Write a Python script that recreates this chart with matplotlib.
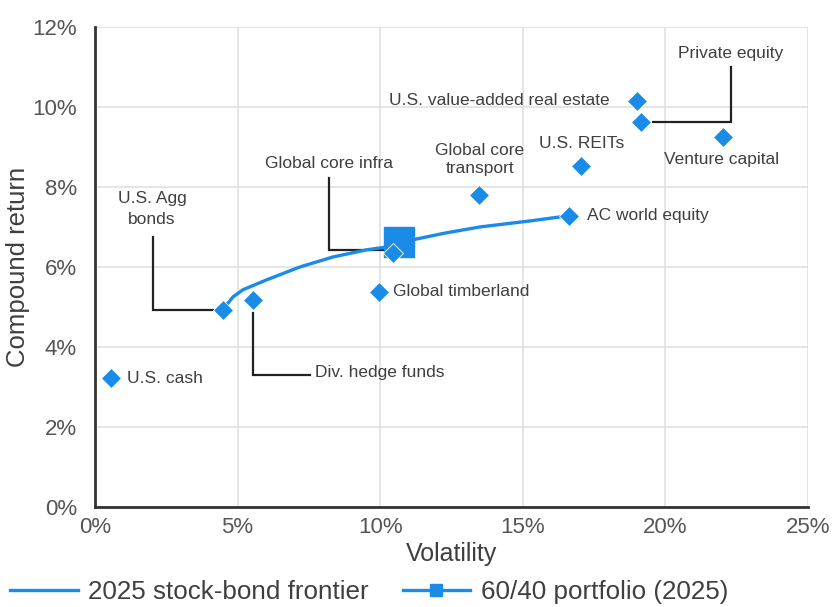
import matplotlib
matplotlib.use("Agg")
import matplotlib.pyplot as plt
from matplotlib.ticker import FuncFormatter
from matplotlib.lines import Line2D

plt.rcParams['font.family'] = ['Liberation Sans', 'DejaVu Sans']

# Asset classes: volatility (%) and compound return (%)
assets = ["U.S. cash", "U.S. Agg bonds", "Div. hedge funds", "Global timberland",
          "Global core infra", "Global core transport", "AC world equity", "U.S. REITs",
          "U.S. value-added real estate", "Private equity", "Venture capital"]
volatility = [0.55, 4.49, 5.54, 9.96, 10.45, 13.48, 16.62, 17.04, 19.0, 19.14, 22.02]
returns = [3.22, 4.93, 5.18, 5.38, 6.35, 7.8, 7.28, 8.53, 10.15, 9.63, 9.25]

# 2025 stock-bond frontier
frontier_vol = [4.5, 4.84, 5.19, 6.03, 7.19, 8.35, 9.54, 10.24, 11.15, 12.3, 13.5, 15.25, 16.62]
frontier_ret = [4.95, 5.25, 5.43, 5.68, 6.0, 6.25, 6.43, 6.5, 6.68, 6.85, 7.0, 7.15, 7.28]

# 60/40 portfolio
portfolio_vol = [10.65]
portfolio_ret = [6.63]

x_ticks = [0, 5, 10, 15, 20, 25]
y_ticks = [0, 2, 4, 6, 8, 10, 12]

BLUE = "#1a8be6"
TEXT = "#3f3f3f"
LEAD = "#222222"

fig = plt.figure(figsize=(8.33, 6.07), dpi=100)
ax = fig.add_axes([0.114, 0.165, 0.856, 0.7905])

ax.plot(frontier_vol, frontier_ret, color=BLUE, lw=2.4, zorder=3, solid_capstyle='round')
ax.plot(portfolio_vol, portfolio_ret, marker='s', ms=21, color=BLUE, ls='none', zorder=4)
ax.plot(volatility, returns, marker='D', ms=10, color=BLUE, ls='none', zorder=5,
        markeredgecolor='white', markeredgewidth=0.6)

ax.set_xlim(x_ticks[0], x_ticks[-1])
ax.set_ylim(y_ticks[0], y_ticks[-1])
ax.set_xticks(x_ticks)
ax.set_yticks(y_ticks)
ax.xaxis.set_major_formatter(FuncFormatter(lambda v, p: f"{v:.0f}%"))
ax.yaxis.set_major_formatter(FuncFormatter(lambda v, p: f"{v:.0f}%"))
ax.tick_params(axis='x', length=0, labelsize=16, labelcolor="#555555", pad=7)
ax.tick_params(axis='y', length=0, labelsize=16, labelcolor="#555555", pad=13)
ax.grid(True, color="#dedede", lw=1.1)
ax.set_axisbelow(True)
for s in ['top', 'right']:
    ax.spines[s].set_visible(False)
for s in ['left', 'bottom']:
    ax.spines[s].set_color("#333333")
    ax.spines[s].set_linewidth(2)
    ax.spines[s].set_zorder(6)

ax.set_xlabel("Volatility", fontsize=18, color=TEXT, labelpad=3)
ax.set_ylabel("Compound return", fontsize=18.5, color=TEXT, labelpad=2)

fs = 12.5
pt = dict(zip(assets, zip(volatility, returns)))

def lead(xs, ys):
    ax.plot(xs, ys, color=LEAD, lw=1.6, zorder=2, solid_joinstyle='miter')

# Labels
ax.text(1.12, pt["U.S. cash"][1], "U.S. cash", fontsize=fs, color=TEXT, ha='left', va='center')
ax.text(2.0, 7.45, "U.S. Agg\nbonds", fontsize=fs, color=TEXT, ha='center', va='center', linespacing=1.5)
vx, vy = pt["U.S. Agg bonds"]
lead([2.03, 2.03, vx - 0.35], [6.75, vy, vy])

vx, vy = pt["Div. hedge funds"]
lead([vx, vx, 7.55], [vy - 0.33, 3.3, 3.3])
ax.text(7.72, 3.35, "Div. hedge funds", fontsize=fs, color=TEXT, ha='left', va='center')

ax.text(10.45, pt["Global timberland"][1], "Global timberland", fontsize=fs, color=TEXT, ha='left', va='center')

vx, vy = pt["Global core infra"]
lead([8.2, 8.2, vx - 0.3], [8.22, vy + 0.07, vy + 0.07])
ax.text(8.2, 8.58, "Global core infra", fontsize=fs, color=TEXT, ha='center', va='center')

ax.text(13.5, 8.68, "Global core\ntransport", fontsize=fs, color=TEXT, ha='center', va='center', linespacing=1.25)
ax.text(17.25, pt["AC world equity"][1], "AC world equity", fontsize=fs, color=TEXT, ha='left', va='center')
ax.text(17.08, 9.08, "U.S. REITs", fontsize=fs, color=TEXT, ha='center', va='center')
ax.text(18.06, pt["U.S. value-added real estate"][1], "U.S. value-added real estate",
        fontsize=fs, color=TEXT, ha='right', va='center')

vx, vy = pt["Private equity"]
lead([22.3, 22.3, vx + 0.43], [11.0, vy, vy])
ax.text(22.27, 11.35, "Private equity", fontsize=fs, color=TEXT, ha='center', va='center')
ax.text(21.98, 8.68, "Venture capital", fontsize=fs, color=TEXT, ha='center', va='center')

handles = [Line2D([], [], color=BLUE, lw=2.4),
           Line2D([], [], color=BLUE, lw=2.4, marker='s', ms=9)]
fig.legend(handles, ["2025 stock-bond frontier", "60/40 portfolio (2025)"],
           loc='center left', bbox_to_anchor=(0.0, 0.025), ncol=2, frameon=False,
           fontsize=18.7, handlelength=2.6, handletextpad=0.4, columnspacing=1.3,
           labelcolor=TEXT, borderaxespad=0)

fig.savefig("out.png", dpi=100)
